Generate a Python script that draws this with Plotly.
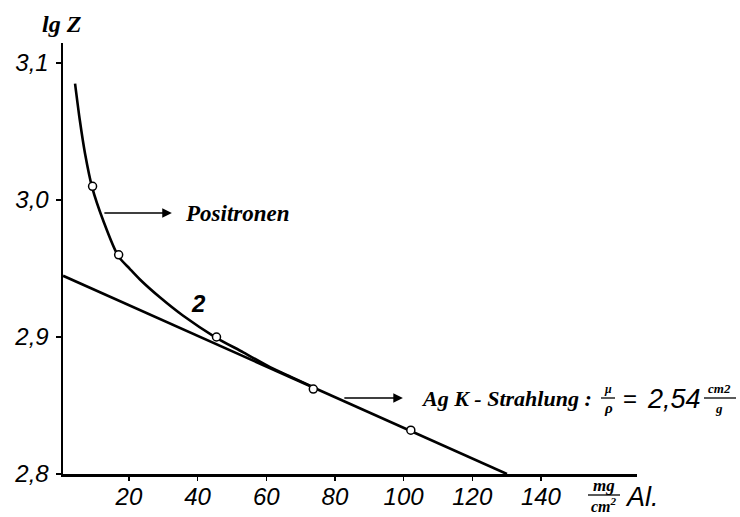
import plotly.graph_objects as go

# ---- data ----
points_x = [9.4, 17.0, 45.5, 73.7, 102.1]
points_y = [3.010, 2.960, 2.900, 2.862, 2.832]

curve_x = [4.3, 5.7, 7.2, 9.3, 12.5, 16.9, 20.3, 23.2, 29.0, 35.8, 45.2, 53.3, 61.1, 68.0, 74.0]
curve_y = [3.085, 3.058, 3.034, 3.009, 2.985, 2.959, 2.9496, 2.942, 2.929, 2.9155, 2.8998, 2.8888, 2.878, 2.870, 2.863]

line_x = [0.8, 130.1]
line_y = [2.9447, 2.800]

x_ticks = [20, 40, 60, 80, 100, 120, 140]
x_ticklabels = ["20", "40", "60", "80", "100", "120", "140"]
y_ticks = [2.8, 2.9, 3.0, 3.1]
y_ticklabels = ["2,8", "2,9", "3,0", "3,1"]

W, H = 740, 517
L, R, T, B = 63, 637, 43, 474


def px(x):
    return (x - L) / (R - L)


def py(y):
    return (B - y) / (B - T)


NUMFONT = dict(family="Liberation Sans", size=24, color="black", style="italic")
SERIF_BI = dict(family="Liberation Serif", color="black", style="italic", weight="bold")

fig = go.Figure()
fig.add_trace(go.Scatter(x=line_x, y=line_y, mode="lines",
                         line=dict(color="black", width=2.6), hoverinfo="skip"))
fig.add_trace(go.Scatter(x=curve_x, y=curve_y, mode="lines",
                         line=dict(color="black", width=2.6, shape="spline", smoothing=0.8),
                         hoverinfo="skip"))
fig.add_trace(go.Scatter(x=points_x, y=points_y, mode="markers",
                         marker=dict(symbol="circle", size=8, color="white",
                                     line=dict(color="black", width=1.5)),
                         hoverinfo="skip"))

ann = []
# arrows
ann.append(dict(x=32.5, y=2.9905, ax=12.4, ay=2.9905, xref="x", yref="y", axref="x", ayref="y",
                text="", showarrow=True, arrowhead=2, arrowsize=1.2, arrowwidth=1.6, arrowcolor="black"))
ann.append(dict(x=99.8, y=2.8555, ax=82.3, ay=2.8555, xref="x", yref="y", axref="x", ayref="y",
                text="", showarrow=True, arrowhead=2, arrowsize=1.2, arrowwidth=1.6, arrowcolor="black"))
# labels
ann.append(dict(x=px(183), y=py(213), xref="paper", yref="paper", text="Positronen",
                showarrow=False, xanchor="left", yanchor="middle", font=dict(SERIF_BI, size=23)))
ann.append(dict(x=px(198), y=py(303), xref="paper", yref="paper", text="2",
                showarrow=False, xanchor="center", yanchor="middle",
                font=dict(NUMFONT, weight="bold", size=24)))
ann.append(dict(x=px(62), y=py(24), xref="paper", yref="paper", text="lg Z",
                showarrow=False, xanchor="center", yanchor="middle", font=dict(SERIF_BI, size=24)))
ann.append(dict(x=px(419), y=py(398), xref="paper", yref="paper", text="Ag K - Strahlung :",
                showarrow=False, xanchor="left", yanchor="middle", font=dict(SERIF_BI, size=22)))
ann.append(dict(x=px(608), y=py(389), xref="paper", yref="paper", text="μ",
                showarrow=False, xanchor="center", yanchor="middle", font=dict(SERIF_BI, size=12)))
ann.append(dict(x=px(608), y=py(408), xref="paper", yref="paper", text="ρ",
                showarrow=False, xanchor="center", yanchor="middle", font=dict(SERIF_BI, size=15)))
ann.append(dict(x=px(630), y=py(398), xref="paper", yref="paper", text="=",
                showarrow=False, xanchor="center", yanchor="middle",
                font=dict(family="Liberation Sans", size=24, color="black")))
ann.append(dict(x=px(674), y=py(399), xref="paper", yref="paper", text="2,54",
                showarrow=False, xanchor="center", yanchor="middle",
                font=dict(NUMFONT, size=27)))
ann.append(dict(x=px(719), y=py(388), xref="paper", yref="paper", text="cm2",
                showarrow=False, xanchor="center", yanchor="middle", font=dict(SERIF_BI, size=13)))
ann.append(dict(x=px(719), y=py(408), xref="paper", yref="paper", text="g",
                showarrow=False, xanchor="center", yanchor="middle", font=dict(SERIF_BI, size=13)))
# x unit
ann.append(dict(x=px(604), y=py(485), xref="paper", yref="paper", text="mg",
                showarrow=False, xanchor="center", yanchor="middle", font=dict(SERIF_BI, size=17)))
ann.append(dict(x=px(604), y=py(505), xref="paper", yref="paper", text="cm<sup>2</sup>",
                showarrow=False, xanchor="center", yanchor="middle", font=dict(SERIF_BI, size=16)))
ann.append(dict(x=px(623), y=py(497), xref="paper", yref="paper", text="Al.",
                showarrow=False, xanchor="left", yanchor="middle", font=dict(NUMFONT, size=27)))

shapes = [
    dict(type="line", xref="paper", yref="paper", x0=px(601), x1=px(615), y0=py(398), y1=py(398),
         line=dict(color="black", width=1.3)),
    dict(type="line", xref="paper", yref="paper", x0=px(704), x1=px(736), y0=py(398), y1=py(398),
         line=dict(color="black", width=1.3)),
    dict(type="line", xref="paper", yref="paper", x0=px(588), x1=px(620), y0=py(495), y1=py(495),
         line=dict(color="black", width=1.3)),
]

fig.update_layout(
    width=W, height=H,
    margin=dict(l=L, r=W - R, t=T, b=H - B, pad=0, autoexpand=False),
    paper_bgcolor="white", plot_bgcolor="white",
    showlegend=False,
    annotations=ann, shapes=shapes,
    xaxis=dict(range=[(L - 60.3) / 3.433, (R - 60.3) / 3.433], showgrid=False, zeroline=False,
               automargin=False,
               showline=True, linecolor="black", linewidth=2.5,
               tickmode="array", tickvals=x_ticks, ticktext=x_ticklabels,
               ticks="outside", ticklen=4, tickwidth=1.5, tickcolor="black",
               tickfont=NUMFONT, ticklabelstandoff=-4),
    yaxis=dict(range=[2.8, 2.8 + (B - T) / 1370], showgrid=False, zeroline=False,
               automargin=False,
               showline=True, linecolor="black", linewidth=2.5,
               tickmode="array", tickvals=y_ticks, ticktext=y_ticklabels,
               ticks="outside", ticklen=5, tickwidth=1.5, tickcolor="black",
               tickfont=NUMFONT, ticklabelstandoff=2),
)

post = ("var d=document.getElementById('{plot_id}');"
        "d.style.position='fixed';d.style.left='0px';d.style.top='0px';"
        "document.body.style.margin='0';")
fig.write_html("out.html", config={"displayModeBar": False, "staticPlot": True}, post_script=post)
